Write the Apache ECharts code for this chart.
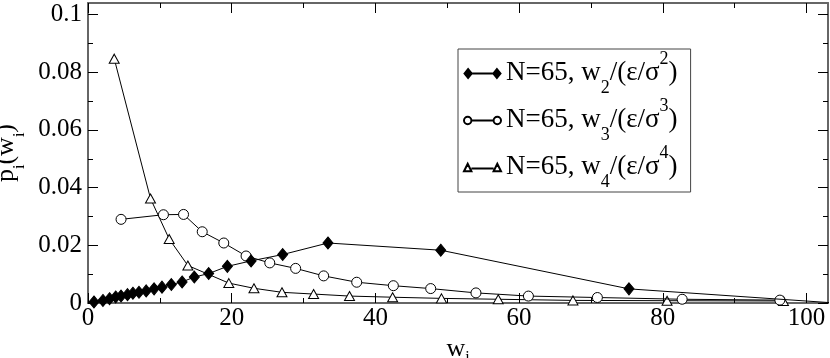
<!DOCTYPE html>
<html>
<head>
<meta charset="utf-8">
<script src="https://cdn.jsdelivr.net/npm/echarts@6/dist/echarts.min.js"></script>
<style>html,body{margin:0;padding:0;background:#fff;}#c{width:830px;height:358px;}</style>
</head>
<body>
<div id="c"></div>
<script>
// ---- data ----
const w2X = [0.83, 2.08, 3.0, 3.85, 4.6, 5.5, 6.25, 7.1, 8.1, 9.2, 10.3, 11.6, 13.1, 14.8, 16.8, 19.4, 22.7, 27.1, 33.4, 49.1, 75.3, 104];
const w2Y = [0.00035, 0.0009, 0.0015, 0.0021, 0.0024, 0.0029, 0.0034, 0.0037, 0.0042, 0.0049, 0.0055, 0.0064, 0.0073, 0.0090, 0.0102, 0.0127, 0.0146, 0.0168, 0.0208, 0.0183, 0.0049, 0.0];
const w3X = [4.6, 10.5, 13.3, 15.9, 18.9, 22.0, 25.3, 28.9, 32.8, 37.4, 42.5, 47.7, 54.0, 61.3, 70.9, 82.7, 96.3];
const w3Y = [0.0290, 0.0306, 0.0307, 0.0247, 0.0208, 0.0163, 0.0139, 0.0120, 0.0094, 0.0072, 0.0060, 0.0050, 0.0035, 0.0024, 0.0019, 0.0013, 0.0010];
const w4X = [3.65, 8.7, 11.3, 13.9, 19.6, 23.1, 27.0, 31.4, 36.4, 42.4, 49.2, 57.1, 67.5, 80.6, 96.8];
const w4Y = [0.0847, 0.0362, 0.0222, 0.0130, 0.0069, 0.0051, 0.0037, 0.0031, 0.0024, 0.0020, 0.0016, 0.0013, 0.0009, 0.0008, 0.0007];
const seriesNames = ['w2', 'w3', 'w4'];
const legendTexts = {
  w2: '{n|N=65, w}{sb|2}{n|/(ε/σ}{sp|2}{n|)}',
  w3: '{n|N=65, w}{sb|3}{n|/(ε/σ}{sp|3}{n|)}',
  w4: '{n|N=65, w}{sb|4}{n|/(ε/σ}{sp|4}{n|)}'
};
const xMajor = [0, 20, 40, 60, 80, 100];
const xMinor = [10, 30, 50, 70, 90];
const yMajor = [0, 0.02, 0.04, 0.06, 0.08, 0.1];
const yMinor = [0.01, 0.03, 0.05, 0.07, 0.09];
const xName = '{n|w}{sb|i}';
const yName = '{n|p}{sb|i}{n|(w}{sb|i}{n|)}';

const FONT = "'Liberation Serif', 'Times New Roman', Times, serif";
const richLegend = {
  n: {fontFamily: FONT, fontSize: 27, color: '#000', verticalAlign: 'top', padding: [9, 0, 0, 0]},
  sb: {fontFamily: FONT, fontSize: 18, color: '#000', verticalAlign: 'top', padding: [29, 0, 0, 0]},
  sp: {fontFamily: FONT, fontSize: 18, color: '#000', verticalAlign: 'top', padding: [0, 0, 0, 0]}
};
const richYName = {
  n: {fontFamily: FONT, fontSize: 26, color: '#000', verticalAlign: 'top', padding: [0, 0, 0, 0]},
  sb: {fontFamily: FONT, fontSize: 16, color: '#000', verticalAlign: 'top', padding: [18, 0, 0, 0]}
};
const richXName = {
  n: {fontFamily: FONT, fontSize: 26, color: '#000', verticalAlign: 'top', padding: [0, 0, 0, 0]},
  sb: {fontFamily: FONT, fontSize: 16, color: '#000', verticalAlign: 'top', padding: [14, 0, 0, 0]}
};
const richTick = {
  t: {fontFamily: FONT, fontSize: 25, color: '#000'}
};
const FRAME = '#666';

function pairs(xs, ys) { return xs.map((x, i) => [x, ys[i]]); }

function xAx(pos, vals, len, showLine, showLabel, extra) {
  return Object.assign({
    type: 'value', position: pos, min: 0, max: 103, gridIndex: 0,
    axisLine: {show: showLine, onZero: false, lineStyle: {color: FRAME, width: 2}},
    axisTick: {show: true, inside: true, length: len, customValues: vals, lineStyle: {color: '#000', width: 1}},
    axisLabel: {show: showLabel, customValues: vals, fontFamily: FONT, fontSize: 25, color: '#000', margin: 3,
      formatter: v => '{t|' + v + '}', rich: richTick},
    splitLine: {show: false}
  }, extra || {});
}
function yAx(pos, vals, len, showLine, showLabel, extra) {
  return Object.assign({
    type: 'value', position: pos, min: 0, max: 0.104, gridIndex: 0,
    axisLine: {show: showLine, onZero: false, lineStyle: {color: FRAME, width: 2}},
    axisTick: {show: true, inside: true, length: len, customValues: vals, lineStyle: {color: '#000', width: 1}},
    axisLabel: {show: showLabel, customValues: vals, fontFamily: FONT, fontSize: 25, color: '#000', margin: 6,
      formatter: v => '{t|' + String(+v.toFixed(3)) + '}', rich: richTick},
    splitLine: {show: false}
  }, extra || {});
}

const symbolStyles = [
  {symbol: 'diamond', symbolSize: [10, 12], itemStyle: {color: '#000', borderColor: '#000', borderWidth: 1}},
  {symbol: 'circle', symbolSize: 10, itemStyle: {color: '#fff', borderColor: '#000', borderWidth: 1}},
  {symbol: 'triangle', symbolSize: [10, 9], itemStyle: {color: '#fff', borderColor: '#000', borderWidth: 1}}
];
const legendIcons = [
  'path://M0,5L4,0L8,5L4,10ZM8,5L32,5M32,5L36,0L40,5L36,10Z',
  'path://M0,5A4,4,0,1,1,8,5A4,4,0,1,1,0,5ZM8,5L32,5M32,5A4,4,0,1,1,40,5A4,4,0,1,1,32,5Z',
  'path://M0,9L4,1L8,9ZM8,6L32,6M32,9L36,1L40,9Z'
];
const dataSets = [pairs(w2X, w2Y), pairs(w3X, w3Y), pairs(w4X, w4Y)];

const chart = echarts.init(document.getElementById('c'), null, {renderer: 'canvas'});
chart.setOption({
  animation: false,
  backgroundColor: '#fff',
  textStyle: {fontFamily: FONT},
  grid: {left: 88, right: 2, top: 3, bottom: 55, containLabel: false, outerBoundsMode: 'none'},
  xAxis: [
    xAx('bottom', xMajor, 10, true, true, {
      name: xName, nameLocation: 'middle', nameGap: 24,
      nameTextStyle: {rich: richXName}
    }),
    xAx('bottom', xMinor, 5, false, false),
    xAx('top', xMajor, 10, true, false),
    xAx('top', xMinor, 5, false, false)
  ],
  yAxis: [
    yAx('left', yMajor, 10, true, true, {
      name: yName, nameLocation: 'middle', nameGap: 56, nameRotate: 90,
      nameTextStyle: {rich: richYName}
    }),
    yAx('left', yMinor, 5, false, false),
    yAx('right', yMajor, 10, true, false),
    yAx('right', yMinor, 5, false, false)
  ],
  legend: {
    orient: 'vertical', left: 458, top: 49,
    padding: [1, 13, 1, 5], itemGap: 0,
    itemWidth: 37, itemHeight: 9,
    borderColor: '#444', borderWidth: 1, backgroundColor: '#fff',
    selectedMode: false,
    data: seriesNames.map((n, i) => ({name: n, icon: legendIcons[i]})),
    formatter: name => legendTexts[name],
    textStyle: {rich: richLegend, fontFamily: FONT}
  },
  series: seriesNames.map((n, i) => Object.assign({
    name: n, type: 'line', xAxisIndex: 0, yAxisIndex: 0,
    data: dataSets[i], showAllSymbol: true, clip: true,
    lineStyle: {color: '#000', width: 1},
    emphasis: {disabled: true}, z: 3 - i
  }, symbolStyles[i]))
});
</script>
</body>
</html>
